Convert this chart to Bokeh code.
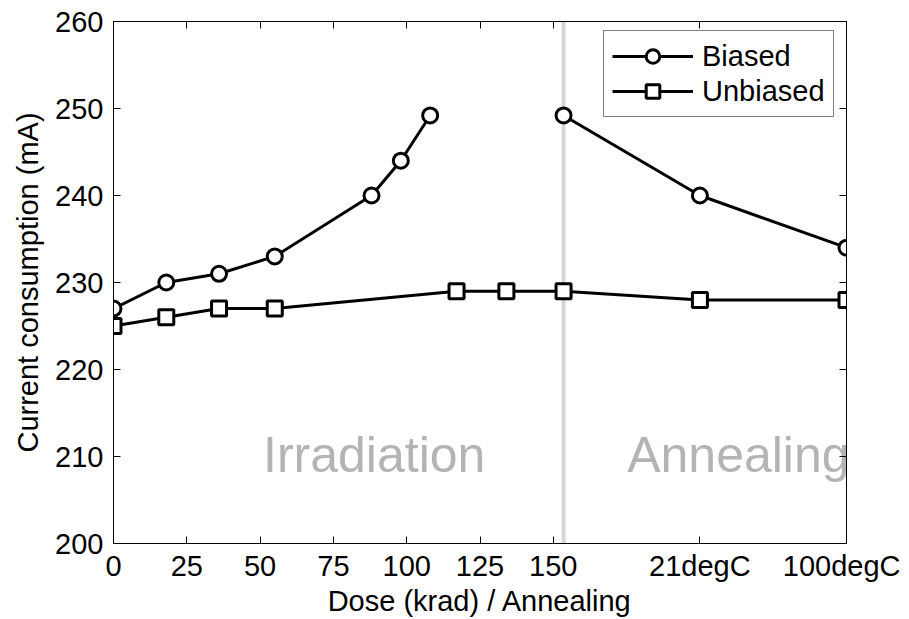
import math
from bokeh.plotting import figure
from bokeh.models import LinearAxis, FixedTicker, Legend, LegendItem, Span, Range1d
from bokeh.core.properties import value
from bokeh.embed import file_html
from bokeh.resources import INLINE

# ---- data ----
biased_x = [0, 18, 36, 55, 88, 98, 108, 153.5, 200, 250]
biased_y = [227, 230, 231, 233, 240, 244, 249.2, 249.2, 240, 234]
biased_irradiation_count = 7  # points before the annealing gap

unbiased_x = [0, 18, 36, 55, 117, 134, 153.5, 200, 250]
unbiased_y = [225, 226, 227, 227, 229, 229, 229, 228, 228]

x_ticks = [0, 25, 50, 75, 100, 125, 150, 200, 250]
x_tick_labels = ["0", "25", "50", "75", "100", "125", "150", "21degC", "100degC"]
y_ticks = [200, 210, 220, 230, 240, 250, 260]

phase_boundary = 153.5
phase_labels = ["Irradiation", "Annealing"]
phase_label_x = [51, 175.2]
phase_label_y = [210.2, 210.2]

FONT = "Liberation Sans"

p = figure(width=900, height=619, output_backend="svg", toolbar_location=None,
           x_range=Range1d(0, 250), y_range=Range1d(200, 260),
           min_border_left=113, min_border_right=54, min_border_top=21, min_border_bottom=75)
p.outline_line_color = None
p.xgrid.visible = False
p.ygrid.visible = False

# phase boundary
p.add_layout(Span(location=phase_boundary, dimension="height", line_color="#d6d6d6",
                  line_width=4, level="underlay"))

# phase labels
p.text(x=phase_label_x, y=phase_label_y, text=phase_labels, text_font=value(FONT),
       text_font_size="50px", text_color="#b4b4b4", text_align="left",
       text_baseline="middle")

# biased series (line broken between irradiation and annealing)
bl_x = biased_x[:biased_irradiation_count] + [math.nan] + biased_x[biased_irradiation_count:]
bl_y = biased_y[:biased_irradiation_count] + [math.nan] + biased_y[biased_irradiation_count:]
lb = p.line(bl_x, bl_y, line_color="black", line_width=3)
sb = p.scatter(biased_x, biased_y, marker="circle", size=15, fill_color="white",
               line_color="black", line_width=3)

lu = p.line(unbiased_x, unbiased_y, line_color="black", line_width=3)
su = p.scatter(unbiased_x, unbiased_y, marker="square", size=15, fill_color="white",
               line_color="black", line_width=3)

# axes styling
def style_axis(ax, labels=True):
    ax.axis_line_color = "black"
    ax.axis_line_width = 1
    ax.major_tick_in = 7
    ax.major_tick_out = 0
    ax.minor_tick_in = 0
    ax.minor_tick_out = 0
    ax.major_tick_line_color = "black"
    if labels:
        ax.major_label_text_font = FONT
        ax.major_label_text_font_size = "29px"
        ax.major_label_text_color = "black"
        ax.axis_label_text_font = FONT
        ax.axis_label_text_font_size = "29px"
        ax.axis_label_text_font_style = "normal"
        ax.axis_label_text_color = "black"
    else:
        ax.major_label_text_font_size = "0px"
        ax.major_label_standoff = 0

xa = p.xaxis[0]
xa.ticker = FixedTicker(ticks=x_ticks)
xa.major_label_overrides = {t: l for t, l in zip(x_ticks, x_tick_labels)}
xa.axis_label = "Dose (krad) / Annealing"
style_axis(xa)
xa.major_label_standoff = 6
xa.axis_label_standoff = 0

ya = p.yaxis[0]
ya.ticker = FixedTicker(ticks=y_ticks)
ya.axis_label = "Current consumption (mA)"
style_axis(ya)
ya.major_label_standoff = 10
ya.axis_label_standoff = 8

top = LinearAxis(ticker=FixedTicker(ticks=x_ticks))
style_axis(top, labels=False)
p.add_layout(top, "above")
right = LinearAxis(ticker=FixedTicker(ticks=y_ticks))
style_axis(right, labels=False)
p.add_layout(right, "right")

legend = Legend(items=[LegendItem(label="Biased", renderers=[lb, sb]),
                       LegendItem(label="Unbiased", renderers=[lu, su])],
                location=(490, 426), padding=8, spacing=1,
                glyph_width=81, glyph_height=34, label_height=34, label_standoff=9,
                label_text_font=FONT, label_text_font_size="29px", label_text_color="black",
                border_line_color="black", border_line_width=1,
                background_fill_color="white", background_fill_alpha=1)
p.add_layout(legend)

open("out.html", "w").write(file_html(p, INLINE))
